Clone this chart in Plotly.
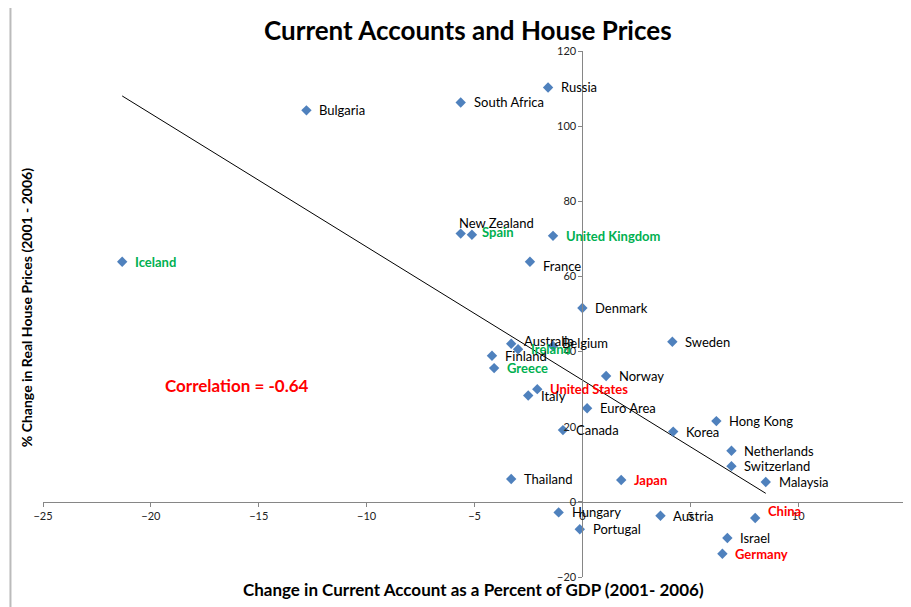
import numpy as np
import plotly.graph_objects as go

# ---- data ----
countries = ["Bulgaria", "South Africa", "Russia", "New Zealand", "Spain", "United Kingdom",
             "Iceland", "France", "Denmark", "Australia", "Ireland", "Belgium", "Finland",
             "Greece", "Norway", "United States", "Italy", "Euro Area", "Sweden", "Hong Kong",
             "Korea", "Netherlands", "Switzerland", "Malaysia", "Canada", "Thailand", "Japan",
             "Hungary", "Austria", "China", "Portugal", "Israel", "Germany"]
current_account = [-12.79, -5.64, -1.59, -5.64, -5.12, -1.36,
                   -21.33, -2.43, 0.0, -3.30, -2.98, -1.36, -4.19,
                   -4.09, 1.10, -2.09, -2.51, 0.22, 4.17, 6.21,
                   4.21, 6.91, 6.91, 8.50, -0.90, -3.30, 1.80,
                   -1.10, 3.62, 8.01, -0.12, 6.72, 6.49]
house_prices = [104.2, 106.3, 110.3, 71.4, 71.1, 70.8,
                63.9, 63.9, 51.6, 42.1, 40.6, 41.5, 38.9,
                35.6, 33.5, 30.0, 28.3, 24.9, 42.6, 21.5,
                18.7, 13.6, 9.5, 5.3, 19.1, 6.1, 5.8,
                -2.8, -3.7, -4.3, -7.3, -9.6, -13.8]
green_group = ["Spain", "United Kingdom", "Iceland", "Ireland", "Greece"]
red_group = ["United States", "Japan", "China", "Germany"]
x_ticks = [-25, -20, -15, -10, -5, 0, 5, 10, 15]
y_ticks = [-20, 0, 20, 40, 60, 80, 100, 120]
correlation_text = "Correlation = -0.64"

# label offsets in pixels (style)
default_shift = (11, 0)
label_shift = {"New Zealand": (-4, 11), "Spain": (8, 3), "France": (11, -4),
               "Australia": (11, 3), "Belgium": (7, 3), "China": (11, 7)}

FONT = "Lato"
GREEN = "#00B050"
RED = "#FF0000"

fig = go.Figure()

# trendline (least squares)
xa = np.array(current_account)
ya = np.array(house_prices)
slope, intercept = np.polyfit(xa, ya, 1)
xl = np.array([xa.min(), xa.max()])
fig.add_trace(go.Scatter(x=xl, y=slope * xl + intercept, mode="lines",
                         line=dict(color="black", width=1), hoverinfo="skip",
                         showlegend=False))

fig.add_trace(go.Scatter(x=current_account, y=house_prices, mode="markers",
                         marker=dict(symbol="diamond", size=8, color="#4F81BD"),
                         text=countries, showlegend=False))

annotations = []
for c, xv, yv in zip(countries, current_account, house_prices):
    if c in green_group:
        col, bold = GREEN, True
    elif c in red_group:
        col, bold = RED, True
    else:
        col, bold = "#000000", False
    dx, dy = label_shift.get(c, default_shift)
    annotations.append(dict(x=xv, y=yv, xref="x", yref="y",
                            text=f"<b>{c}</b>" if bold else c,
                            showarrow=False, xanchor="left", yanchor="middle",
                            xshift=dx, yshift=dy,
                            font=dict(family=FONT, size=13, color=col)))

annotations.append(dict(x=-16.0, y=31.1, xref="x", yref="y",
                        text=f"<b>{correlation_text}</b>", showarrow=False,
                        xanchor="center", yanchor="middle",
                        font=dict(family=FONT, size=17, color=RED)))

annotations.append(dict(x=0.492, y=1.04, xref="paper", yref="paper",
                        text="<b>Current Accounts and House Prices</b>", showarrow=False,
                        xanchor="center", yanchor="middle",
                        font=dict(family=FONT, size=26, color="black")))
annotations.append(dict(x=0.4988, y=-0.0234, xref="paper", yref="paper",
                        text="<b>Change in Current Account as a Percent of GDP (2001- 2006)</b>",
                        showarrow=False, xanchor="center", yanchor="middle",
                        font=dict(family=FONT, size=17, color="black")))
annotations.append(dict(x=-0.0197, y=0.513, xref="paper", yref="paper",
                        text="<b>% Change in Real House Prices (2001 - 2006)</b>",
                        showarrow=False, xanchor="center", yanchor="middle", textangle=-90,
                        font=dict(family=FONT, size=14, color="black")))

xr = [-25, 15]
yr = [-20, 120]
fig.update_layout(
    width=903, height=599,
    margin=dict(l=35, r=5, t=43, b=30),
    paper_bgcolor="white", plot_bgcolor="white",
    annotations=annotations,
    xaxis=dict(range=xr, tickvals=x_ticks, showgrid=False, zeroline=False,
               showline=True, linecolor="#868686", linewidth=1,
               ticks="outside", ticklen=4, tickcolor="#868686",
               anchor="free", position=(0 - yr[0]) / (yr[1] - yr[0]),
               tickfont=dict(family=FONT, size=11, color="#222222")),
    yaxis=dict(range=yr, tickvals=y_ticks, showgrid=False, zeroline=False,
               showline=True, linecolor="#868686", linewidth=1,
               ticks="outside", ticklen=4, tickcolor="#868686",
               anchor="free", position=(0 - xr[0]) / (xr[1] - xr[0]),
               tickfont=dict(family=FONT, size=11, color="#222222")),
    shapes=[dict(type="rect", xref="paper", yref="paper",
                 x0=-0.0377, y0=-0.067, x1=1.0128, y1=1.0847,
                 line=dict(color="#BBBBBB", width=2), layer="below")],
)

fig.write_html("out.html")
